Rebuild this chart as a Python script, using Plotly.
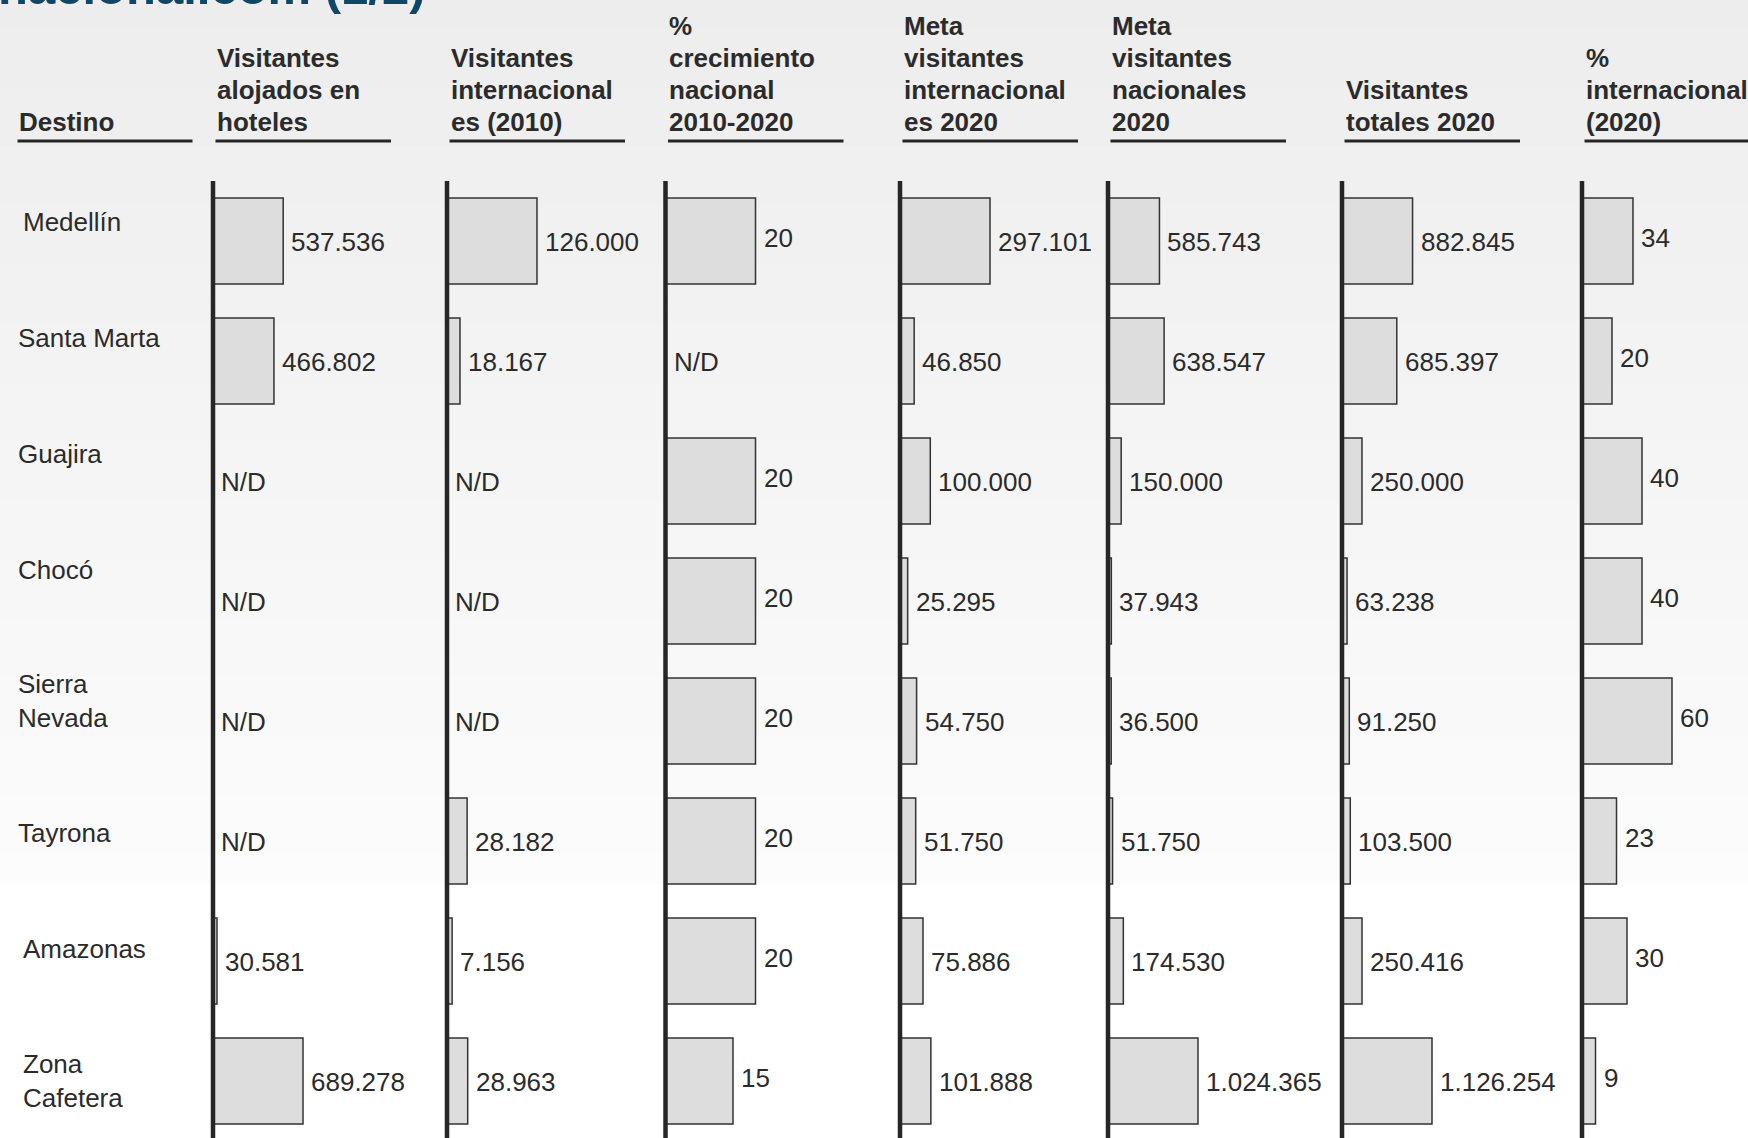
import plotly.graph_objects as go

# ---------------- data ----------------
destinos = ["Medellín", "Santa Marta", "Guajira", "Chocó", "Sierra Nevada",
            "Tayrona", "Amazonas", "Zona Cafetera"]

visitantes_hoteles = [537536, 466802, None, None, None, None, 30581, 689278]
visitantes_int_2010 = [126000, 18167, None, None, None, 28182, 7156, 28963]
crecimiento_nac_pct = [20, None, 20, 20, 20, 20, 20, 15]
meta_int_2020 = [297101, 46850, 100000, 25295, 54750, 51750, 75886, 101888]
meta_nac_2020 = [585743, 638547, 150000, 37943, 36500, 51750, 174530, 1024365]
totales_2020 = [882845, 685397, 250000, 63238, 91250, 103500, 250416, 1126254]
pct_int_2020 = [34, 20, 40, 40, 60, 23, 30, 9]

series = [visitantes_hoteles, visitantes_int_2010, crecimiento_nac_pct,
          meta_int_2020, meta_nac_2020, totales_2020, pct_int_2020]

header_destino = ["Destino"]
headers = [
    ["Visitantes", "alojados en", "hoteles"],
    ["Visitantes", "internacional", "es (2010)"],
    ["%", "crecimiento", "nacional", "2010-2020"],
    ["Meta", "visitantes", "internacional", "es 2020"],
    ["Meta", "visitantes", "nacionales", "2020"],
    ["Visitantes", "totales 2020"],
    ["%", "internacional", "(2020)"],
]
title_text = "nacional.com (1/2)"

# ---------------- layout helpers (pixels) ----------------
W, H = 1748, 1138
FONT = "Liberation Sans"
TXT = "#2b2b2b"
axis_px = [213, 447, 665.5, 900, 1108, 1342, 1582]
dom_w = [200, 200, 200, 200, 200, 200, 160]
left_pad = 8.0
bar_max_px = 90.0
row0_px, pitch = 241.0, 120.0
y_top = -row0_px / pitch
y_bot = (H - row0_px) / pitch

def px(x):
    return x / W

def py(y):
    return 1 - y / H

def fmt(v):
    return "N/D" if v is None else f"{v:,}".replace(",", ".")

fig = go.Figure()
shapes = []
annotations = []

# background gradient
grad_end = 883
nb = 90
for k in range(nb):
    y0 = grad_end * k / nb
    y1 = grad_end * (k + 1) / nb
    c = round(237 + (252 - 237) * (k + 0.5) / nb)
    shapes.append(dict(type="rect", xref="paper", yref="paper", x0=0, x1=1,
                       y0=py(y1 + 0.5), y1=py(y0), fillcolor=f"rgb({c},{c},{c})",
                       line=dict(width=0), layer="below"))

layout_axes = {}
for k, vals in enumerate(series):
    ax = "" if k == 0 else str(k + 1)
    mx = max(v for v in vals if v is not None)
    per_px = mx / bar_max_px
    x0 = px(axis_px[k] - left_pad)
    right_px = min(W, axis_px[k] + dom_w[k])
    x1 = px(right_px)
    layout_axes[f"xaxis{ax}"] = dict(domain=[x0, x1],
                                     range=[-left_pad * per_px, (right_px - axis_px[k]) * per_px],
                                     anchor="y", visible=False, fixedrange=True)
    fig.add_trace(go.Bar(
        x=vals, y=list(range(len(destinos))), orientation="h",
        xaxis=f"x{ax}", yaxis="y", width=86 / pitch,
        marker=dict(color="#dddddd", line=dict(color="#333333", width=1.5)),
        hoverinfo="skip", showlegend=False,
    ))
    # vertical axis line
    shapes.append(dict(type="line", xref=f"x{ax}", yref="y", x0=0, x1=0,
                       y0=(181 - row0_px) / pitch, y1=y_bot + 0.2,
                       line=dict(color="#262626", width=4.5), layer="above"))
    # value labels
    pct_col = k in (2, 6)
    for i, v in enumerate(vals):
        annotations.append(dict(
            xref=f"x{ax}", yref="y", x=0 if v is None else v, y=i,
            text=fmt(v), showarrow=False, xanchor="left", yanchor="middle",
            xshift=6, yshift=(3 if (pct_col and v is not None) else -1),
            font=dict(family=FONT, size=26, color=TXT)))
    # header underline + text
    ux = axis_px[k] + 2.5
    shapes.append(dict(type="line", xref="paper", yref="paper",
                       x0=px(ux), x1=px(ux + 175.5), y0=py(141), y1=py(141),
                       line=dict(color="#262626", width=3)))
    lines = headers[k]
    n = len(lines)
    for j, t in enumerate(lines):
        cy = 121.8 - 32 * (n - 1 - j)
        annotations.append(dict(
            xref="paper", yref="paper", x=px(ux - 1), y=py(cy), text=f"<b>{t}</b>",
            showarrow=False, xanchor="left", yanchor="middle",
            font=dict(family=FONT, size=26, color=TXT)))

# Destino column header
shapes.append(dict(type="line", xref="paper", yref="paper",
                   x0=px(17.5), x1=px(192.5), y0=py(141), y1=py(141),
                   line=dict(color="#262626", width=3)))
annotations.append(dict(xref="paper", yref="paper", x=px(16.5), y=py(121.8),
                        text=f"<b>{header_destino[0]}</b>", showarrow=False,
                        xanchor="left", yanchor="middle",
                        font=dict(family=FONT, size=26, color=TXT)))

# row labels
label_text = [d.replace(" ", "<br>") if d in ("Sierra Nevada", "Zona Cafetera") else d
              for d in destinos]
label_x = [20.5, 15.5, 15.5, 15.5, 15.5, 15.5, 21, 20.5]
label_up = [19, 23, 27, 31, 20, 8, 12, 0]
for i, t in enumerate(label_text):
    annotations.append(dict(xref="paper", yref="y", x=px(label_x[i]), y=i, text=t,
                            showarrow=False, xanchor="left", yanchor="middle",
                            yshift=label_up[i], align="left",
                            font=dict(family=FONT, size=26, color=TXT)))

# cropped title
annotations.append(dict(xref="paper", yref="paper", x=px(428), y=1 + 13 / H,
                        text=f"<b>{title_text}</b>", showarrow=False,
                        xanchor="right", yanchor="middle",
                        font=dict(family=FONT, size=49, color="#0d4868")))

fig.update_layout(
    width=W, height=H, margin=dict(l=0, r=0, t=0, b=0),
    paper_bgcolor="white", plot_bgcolor="rgba(0,0,0,0)",
    yaxis=dict(domain=[0, 1], range=[y_bot, y_top], visible=False, fixedrange=True,
               anchor="x"),
    barmode="overlay", shapes=shapes, annotations=annotations,
    showlegend=False,
    **layout_axes,
)

fig.write_html("out.html", config={"displayModeBar": False})
